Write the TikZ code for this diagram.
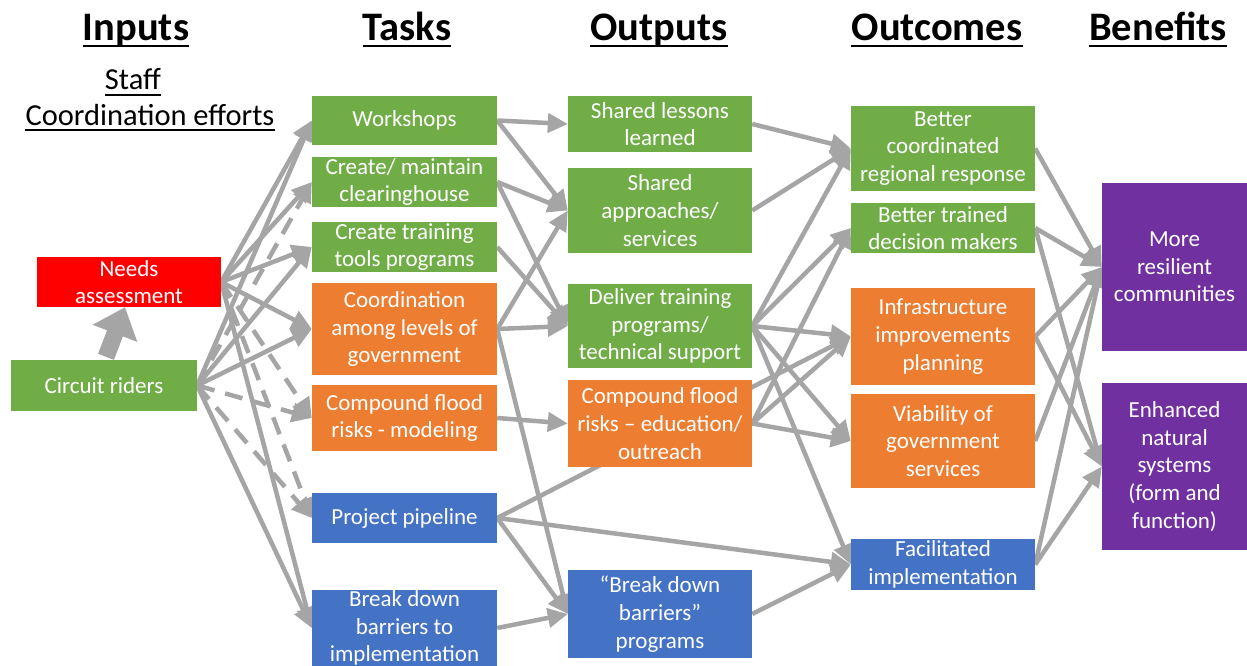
\documentclass[tikz,border=0pt]{standalone}
\usepackage{fontspec}
\setmainfont{Carlito}
\usetikzlibrary{arrows.meta,backgrounds}
\definecolor{ggreen}{HTML}{70AD47}
\definecolor{gorange}{HTML}{ED7D31}
\definecolor{gblue}{HTML}{4472C4}
\definecolor{gpurple}{HTML}{7030A0}
\definecolor{gred}{HTML}{FF0000}
\definecolor{agray}{HTML}{A5A5A5}
\begin{document}
\begin{tikzpicture}[x=1pt,y=-1pt,
 box/.style={fill=#1, text=white, align=center, inner sep=0pt, font=\fontsize{23}{27.7}\selectfont},
 hdr/.style={inner sep=0pt, font=\fontsize{40.5}{48}\selectfont\bfseries, anchor=base},
 sublbl/.style={inner sep=0pt, font=\fontsize{30.5}{36}\selectfont, anchor=base},
 conn/.style={draw=agray, line width=4.5pt, -{Triangle[length=20pt,width=19pt]}},
 dconn/.style={conn, dash pattern=on 18pt off 11pt},
 fat/.style={draw=agray, line width=17pt, -{Triangle[length=28pt,width=46pt]}},
 uline/.style={line width=2.5pt}
]
\clip (0,0) rectangle (1247,666);

% headers
\node[hdr] (h1) at (136,41) {Inputs};
\node[hdr] (h2) at (407,41) {Tasks};
\node[hdr] (h3) at (659,41) {Outputs};
\node[hdr] (h4) at (937,41) {Outcomes};
\node[hdr] (h5) at (1158,41) {Benefits};
\foreach \h in {h1,h2,h3,h4,h5}
  \draw[uline] ([yshift=-5pt]\h.base west) -- ([yshift=-5pt]\h.base east);
\node[sublbl] (s1) at (133,90) {Staff};
\node[sublbl] (s2) at (150,126) {Coordination efforts};
\draw[line width=2pt] ([yshift=-5pt]s1.base west) -- ([yshift=-5pt]s1.base east);
\draw[line width=2pt] ([yshift=-4pt]s2.base west) -- ([yshift=-4pt]s2.base east);

% inputs
\node[box=gred, minimum width=184pt, minimum height=50pt] (na) at (129,282) {Needs\\assessment};
\node[box=ggreen, minimum width=186pt, minimum height=51pt] (cr) at (104,385.5) {Circuit riders};

% tasks
\node[box=ggreen, minimum width=185pt, minimum height=49pt] (ws) at (404.5,120.5) {Workshops};
\node[box=ggreen, minimum width=185pt, minimum height=50pt] (ch) at (404.5,182) {Create/ maintain\\clearinghouse};
\node[box=ggreen, minimum width=185pt, minimum height=50pt] (tt) at (404.5,247) {Create training\\tools programs};
\node[box=gorange, minimum width=185pt, minimum height=92pt] (co) at (404.5,329) {Coordination\\among levels of\\government};
\node[box=gorange, minimum width=185pt, minimum height=66pt] (cm) at (404.5,418) {Compound flood\\risks - modeling};
\node[box=gblue, minimum width=185pt, minimum height=50pt] (pp) at (404.5,518) {Project pipeline};
\node[box=gblue, minimum width=185pt, minimum height=76pt] (bd) at (404.5,628) {Break down\\barriers to\\implementation};

% outputs
\node[box=ggreen, minimum width=184pt, minimum height=56pt] (sl) at (660,124) {Shared lessons\\learned};
\node[box=ggreen, minimum width=184pt, minimum height=85pt] (sa) at (660,210.5) {Shared\\approaches/\\services};
\node[box=ggreen, minimum width=184pt, minimum height=84pt] (dt) at (660,326) {Deliver training\\programs/\\technical support};
\node[box=gorange, minimum width=184pt, minimum height=87pt] (ce) at (660,423.5) {Compound flood\\risks – education/\\outreach};
\node[box=gblue, minimum width=184pt, minimum height=88pt] (bp) at (660,614) {“Break down\\barriers”\\programs};

% outcomes
\node[box=ggreen, minimum width=184pt, minimum height=85pt] (bc) at (943,148.5) {Better\\coordinated\\regional response};
\node[box=ggreen, minimum width=184pt, minimum height=50pt] (bt) at (943,228) {Better trained\\decision makers};
\node[box=gorange, minimum width=184pt, minimum height=97pt] (ip) at (943,336.5) {Infrastructure\\improvements\\planning};
\node[box=gorange, minimum width=184pt, minimum height=94pt] (vg) at (943,441) {Viability of\\government\\services};
\node[box=gblue, minimum width=184pt, minimum height=51pt] (fi) at (943,564.5) {Facilitated\\implementation};

% benefits
\node[box=gpurple, minimum width=145pt, minimum height=168pt] (mr) at (1174.5,267) {More\\resilient\\communities};
\node[box=gpurple, minimum width=145pt, minimum height=167pt] (en) at (1174.5,466.5) {Enhanced\\natural\\systems\\(form and\\function)};

\begin{pgfonlayer}{background}
\fill[white] (0,0) rectangle (1247,666);
% inputs -> tasks
\draw[fat] ([xshift=2pt,yshift=3pt]cr.north) -- ([xshift=-4pt]na.south);
\draw[conn] (na.east) -- (ws.west);
\draw[conn] (na.east) -- (ch.west);
\draw[conn] (na.east) -- (tt.west);
\draw[conn] (na.east) -- (co.west);
\draw[dconn] (na.east) -- (cm.west);
\draw[dconn] (na.east) -- (pp.west);
\draw[conn] (na.east) -- (bd.west);
\draw[conn] (cr.east) -- (ws.west);
\draw[dconn] (cr.east) -- (ch.west);
\draw[conn] (cr.east) -- (tt.west);
\draw[conn] (cr.east) -- (co.west);
\draw[dconn] (cr.east) -- (cm.west);
\draw[dconn] (cr.east) -- (pp.west);
\draw[conn] (cr.east) -- (bd.west);
% tasks -> outputs
\draw[conn] (ws.east) -- (sl.west);
\draw[conn] (ws.east) -- (sa.west);
\draw[conn] (ch.east) -- (sa.west);
\draw[conn] (ch.east) -- (dt.west);
\draw[conn] (tt.east) -- (dt.west);
\draw[conn] (co.east) -- (sa.west);
\draw[conn] (co.east) -- (dt.west);
\draw[conn] (co.east) -- (bp.west);
\draw[conn] (cm.east) -- (ce.west);
\draw[conn] (pp.east) -- (ip.west);
\draw[conn] (pp.east) -- (fi.west);
\draw[conn] (pp.east) -- (bp.west);
\draw[conn] (bd.east) -- (bp.west);
% outputs -> outcomes
\draw[conn] (sl.east) -- (bc.west);
\draw[conn] (sa.east) -- (bc.west);
\draw[conn] (dt.east) -- (bc.west);
\draw[conn] (dt.east) -- (bt.west);
\draw[conn] (dt.east) -- (ip.west);
\draw[conn] (dt.east) -- (vg.west);
\draw[conn] (dt.east) -- (fi.west);
\draw[conn] (ce.east) -- (bt.west);
\draw[conn] (ce.east) -- (ip.west);
\draw[conn] (ce.east) -- (vg.west);
\draw[conn] (bp.east) -- (fi.west);
% outcomes -> benefits
\draw[conn] (bc.east) -- (mr.west);
\draw[conn] (bt.east) -- (mr.west);
\draw[conn] (bt.east) -- (en.west);
\draw[conn] (ip.east) -- (mr.west);
\draw[conn] (ip.east) -- (en.west);
\draw[conn] (vg.east) -- (mr.west);
\draw[conn] (fi.east) -- (mr.west);
\draw[conn] (fi.east) -- (en.west);
\end{pgfonlayer}
\end{tikzpicture}
\end{document}
